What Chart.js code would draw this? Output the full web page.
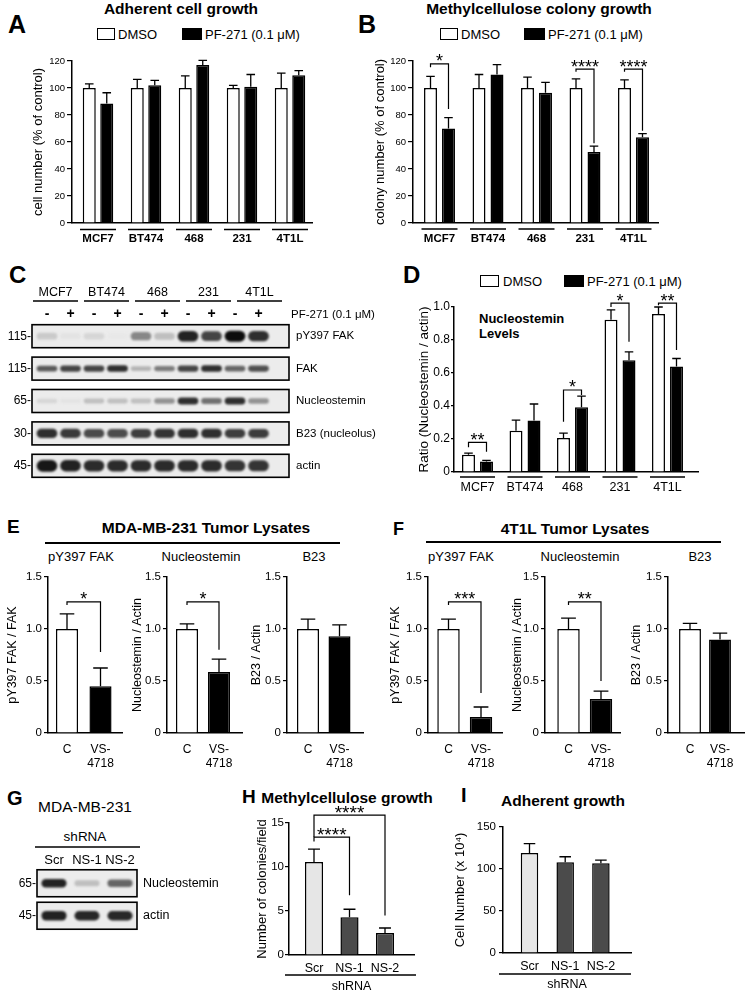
<!DOCTYPE html>
<html><head><meta charset="utf-8">
<script src="https://cdn.jsdelivr.net/npm/chart.js"></script>
<style>
html,body{margin:0;padding:0;background:#fff;}
body{width:746px;height:992px;position:relative;overflow:hidden;font-family:"Liberation Sans",Arial,sans-serif;color:#000;}
.abs{position:absolute;white-space:nowrap;line-height:1;}
canvas{position:absolute;}
</style></head><body>
<script>
// ================= DATA =================
const cellLines = ['MCF7', 'BT474', '468', '231', '4T1L'];

const adherentDMSO = [100, 100, 100, 100, 100];
const adherentDMSOErr = [3, 6.4, 9, 2, 11];
const adherentPF = [88.5, 102, 117, 101, 109.5];
const adherentPFErr = [8, 3.7, 3.5, 9, 3.4];

const colonyDMSO = [100, 100, 100, 100, 100];
const colonyDMSOErr = [8.6, 10, 8, 6.7, 6];
const colonyPF = [70, 110, 96.5, 52.6, 63.5];
const colonyPFErr = [8, 7.3, 7.7, 4.4, 2.7];
// [group, label, bracket level, left leg end, right leg end]
const colonySig = [[0, '*', 117.8, 115.3, 84.4], [3, '****', 114, 112, 59], [4, '****', 114, 112, 68.4]];

const nsRatioDMSO = [0.104, 0.25, 0.206, 0.923, 0.957];
const nsRatioDMSOErr = [0.01, 0.065, 0.03, 0.06, 0.043];
const nsRatioPF = [0.063, 0.312, 0.393, 0.678, 0.64];
const nsRatioPFErr = [0.008, 0.1, 0.067, 0.05, 0.048];
const nsRatioSig = [[0, '**', 0.18, 0.15, 0.123], [2, '*', 0.497, 0.305, 0.467], [3, '*', 1.024, 1.0, 0.79], [4, '**', 1.024, 1.01, 0.74]];

const tumorGroups = ['C', ['VS-', '4718']];
const mda231FAK = [1.0, 0.45], mda231FAKErr = [0.145, 0.175];
const mda231NS = [1.0, 0.586], mda231NSErr = [0.05, 0.125];
const mda231B23 = [1.0, 0.93], mda231B23Err = [0.095, 0.11];
const t4t1FAK = [1.0, 0.155], t4t1FAKErr = [0.095, 0.095];
const t4t1NS = [1.0, 0.327], t4t1NSErr = [0.105, 0.075];
const t4t1B23 = [1.0, 0.90], t4t1B23Err = [0.055, 0.06];
// [from, to, label, level, left leg end, right leg end]
const mda231FAKSig = [[0, 1, '*', 1.26, 1.23, 0.78]];
const mda231NSSig = [[0, 1, '*', 1.26, 1.23, 0.80]];
const t4t1FAKSig = [[0, 1, '***', 1.26, 1.23, 0.385]];
const t4t1NSSig = [[0, 1, '**', 1.26, 1.23, 0.5]];

const shRNAGroups = ['Scr', 'NS-1', 'NS-2'];
const coloniesPerField = [10.57, 4.3, 2.5];
const coloniesErr = [1.45, 0.9, 0.57];
const coloniesSig = [[0, 1, '****', 13.4, 12.9, 6.8], [0, 2, '****', 15.9, 13.4, 4.5]];
const cellNumber = [118.9, 107.9, 106.7];
const cellNumberErr = [11.4, 6.7, 3.9];

// Western blots: band intensity 0 (none) .. 1 (black)
const blotCTreatment = ['-', '+', '-', '+', '-', '+', '-', '+', '-', '+'];
const blotCRows = ['pY397 FAK', 'FAK', 'Nucleostemin', 'B23 (nucleolus)', 'actin'];
const blotCMarkers = ['115-', '115-', '65-', '30-', '45-'];
const blotCIntensity = [
  [0.15, 0.04, 0.1, 0.02, 0.45, 0.2, 0.9, 0.75, 1.0, 0.85],
  [0.65, 0.75, 0.75, 0.85, 0.25, 0.5, 0.75, 0.85, 0.6, 0.7],
  [0.1, 0.04, 0.2, 0.2, 0.2, 0.4, 0.85, 0.55, 0.85, 0.4],
  [0.85, 0.8, 0.72, 0.72, 0.78, 0.82, 0.85, 0.85, 0.78, 0.78],
  [0.95, 0.9, 0.86, 0.86, 0.86, 0.86, 0.86, 0.86, 0.82, 0.82]
];
const blotGLanes = ['Scr', 'NS-1', 'NS-2'];
const blotGRows = ['Nucleostemin', 'actin'];
const blotGMarkers = ['65-', '45-'];
const blotGIntensity = [[0.9, 0.2, 0.6], [0.9, 0.88, 0.88]];

// ================= HELPERS =================
Chart.defaults.font.family = "'Liberation Sans', Arial, sans-serif";
Chart.defaults.color = '#000';
const FONT = "'Liberation Sans', Arial, sans-serif";

function txt(s, x, y, size, opt = {}) {
  const d = document.createElement('div');
  d.className = 'abs';
  d.textContent = s;
  d.style.fontSize = size + 'px';
  if (opt.bold) d.style.fontWeight = 'bold';
  d.style.top = (y - 0.4885 * size) + 'px';
  d.style.left = x + 'px';
  if (opt.center) d.style.transform = 'translateX(-50%)';
  document.body.appendChild(d);
}
function box(x, y, w, h, fill) {
  const d = document.createElement('div');
  d.className = 'abs';
  d.style.cssText += `left:${x}px;top:${y}px;width:${w}px;height:${h}px;background:${fill};box-sizing:border-box;border:1.5px solid #000;`;
  document.body.appendChild(d);
}
function hline(x1, x2, y) {
  const d = document.createElement('div');
  d.className = 'abs';
  d.style.cssText += `left:${x1}px;top:${y - 0.75}px;width:${x2 - x1}px;height:1.5px;background:#000;`;
  document.body.appendChild(d);
}
// keep label overflow from moving the plot area
const fixV = w => s => { s.width = w; s.paddingTop = 0; s.paddingBottom = 0; };
const fixH = h => s => { s.height = h; s.paddingLeft = 0; s.paddingRight = 0; };
const NOGRID = { display: false, drawTicks: false, tickLength: 0 };

function errorBars() {
  return { id: 'errorBars', afterDatasetsDraw(chart) {
    const ctx = chart.ctx, ys = chart.scales.y;
    chart.data.datasets.forEach((ds, di) => {
      if (!ds.errors) return;
      chart.getDatasetMeta(di).data.forEach((bar, i) => {
        const top = ys.getPixelForValue(ds.data[i].y + ds.errors[i]);
        const half = bar.width * 0.33;
        ctx.save(); ctx.strokeStyle = '#000'; ctx.lineWidth = 1.3; ctx.beginPath();
        ctx.moveTo(bar.x, bar.y); ctx.lineTo(bar.x, top);
        ctx.moveTo(bar.x - half, top); ctx.lineTo(bar.x + half, top);
        ctx.stroke(); ctx.restore();
      });
    });
  }};
}
function brackets(items, size) {
  return { id: 'brackets', afterDatasetsDraw(chart) {
    const ctx = chart.ctx, ys = chart.scales.y;
    items.forEach(b => {
      const pa = chart.getDatasetMeta(b.a[0]).data[b.a[1]];
      const pb = chart.getDatasetMeta(b.b[0]).data[b.b[1]];
      const yl = ys.getPixelForValue(b.y), ya = ys.getPixelForValue(b.ya), yb = ys.getPixelForValue(b.yb);
      ctx.save(); ctx.strokeStyle = '#000'; ctx.lineWidth = 1.2; ctx.beginPath();
      ctx.moveTo(pa.x, ya); ctx.lineTo(pa.x, yl); ctx.lineTo(pb.x, yl); ctx.lineTo(pb.x, yb); ctx.stroke();
      ctx.fillStyle = '#000'; ctx.font = size + 'px ' + FONT; ctx.textAlign = 'center'; ctx.textBaseline = 'alphabetic';
      ctx.fillText(b.text, (pa.x + pb.x) / 2, yl + 3.5);
      ctx.restore();
    });
  }};
}
function groupLines(l) {
  return { id: 'groupLines', afterDraw(chart) {
    if (!l) return;
    const ctx = chart.ctx, xs = chart.scales.x, y = chart.chartArea.bottom + l.dy;
    ctx.save(); ctx.strokeStyle = '#000'; ctx.lineWidth = 1.5; ctx.beginPath();
    if (l.span) { ctx.moveTo(xs.left + l.span[0], y); ctx.lineTo(xs.right + l.span[1], y); }
    else xs.ticks.forEach(t => { const p = xs.getPixelForValue(t.value); ctx.moveTo(p - l.half, y); ctx.lineTo(p + l.half, y); });
    ctx.stroke(); ctx.restore();
  }};
}
function pairSig(sig) { return sig.map(s => ({ a: [0, s[0]], b: [1, s[0]], text: s[1], y: s[2], ya: s[3], yb: s[4] })); }
function crossSig(sig) { return sig.map(s => ({ a: [0, s[0]], b: [0, s[1]], text: s[2], y: s[3], ya: s[4], yb: s[5] })); }
const dec1 = v => (v === 0 ? '0' : Number(v).toFixed(1));

function barChart(o) {
  const yW = o.L - o.cl;
  const pr = o.pr ?? 4;
  const W = Math.round(o.R - o.L + yW + pr);
  const H = Math.round(o.B - o.T + o.pt + o.xh);
  const cv = document.createElement('canvas');
  cv.width = W; cv.height = H;
  cv.style.cssText = `left:${o.cl}px;top:${o.T - o.pt}px;width:${W}px;height:${H}px;`;
  document.body.appendChild(cv);
  const labels = o.labels;
  return new Chart(cv, {
    type: 'bar',
    data: { datasets: o.series.map(s => ({
      data: s.values.map((v, i) => ({ x: i, y: v })),
      errors: s.errors,
      backgroundColor: s.fill,
      borderColor: '#000', borderWidth: 1.5,
      categoryPercentage: o.cat, barPercentage: o.bar
    })) },
    options: {
      responsive: false, animation: false, devicePixelRatio: 1, events: [],
      layout: { padding: { top: o.pt, right: pr, left: 0, bottom: H - o.pt - (o.B - o.T) - o.xh } },
      plugins: { legend: { display: false }, tooltip: { enabled: false } },
      scales: {
        x: {
          type: 'linear', offset: false,
          min: (o.L - o.x0) / o.dx, max: (o.R - o.x0) / o.dx,
          afterBuildTicks: ax => { ax.ticks = labels.map((_, i) => ({ value: i })); },
          ticks: { autoSkip: false, maxRotation: 0, minRotation: 0, padding: o.xp, font: o.xfont, callback: v => labels[v] },
          grid: NOGRID,
          border: { display: true, color: '#000', width: 1.5 },
          title: o.xtitle ? { display: true, text: o.xtitle, font: { size: 12.5 }, padding: { top: 0, bottom: o.xtp } } : { display: false },
          afterFit: fixH(o.xh)
        },
        y: {
          min: 0, max: o.ymax,
          ticks: { stepSize: o.step, font: { size: o.tf }, padding: o.tp, callback: o.fmt || (v => v) },
          grid: { display: true, drawOnChartArea: false, drawTicks: true, tickLength: o.tl, color: '#000', tickColor: '#000', lineWidth: 1.2 },
          border: { display: true, color: '#000', width: 1.5 },
          title: { display: true, text: o.ytitle, font: { size: o.ytf }, padding: { top: 0, bottom: 0 } },
          afterFit: fixV(yW)
        }
      }
    },
    plugins: [errorBars(), brackets(o.brackets || [], o.star || 18), groupLines(o.lines)]
  });
}

function blotChart(o) {
  const n = o.rows.length;
  const T = o.T, B = o.T + n * o.dy;
  const hh = o.header ? o.header.h : 0;
  const padTop = T - o.ct - o.xhH - hh;
  const padBottom = o.ct + o.ch - B;
  const cv = document.createElement('canvas');
  cv.width = o.cw; cv.height = o.ch;
  cv.style.cssText = `left:0px;top:${o.ct}px;width:${o.cw}px;height:${o.ch}px;`;
  document.body.appendChild(cv);
  const rowTicks = ax => { ax.ticks = o.rows.map((_, i) => ({ value: i })); };
  const datasets = o.intensity.map((row, r) => ({
    data: row.map((v, lane) => {
      const h = o.bandPx[r] * (0.55 + 0.45 * v) / 2 / o.dy;
      return { x: lane, y: [r - h, r + h] };
    }),
    backgroundColor: row.map(v => { const g = Math.round(236 - 224 * v); return `rgb(${g},${g},${g})`; }),
    grouped: false, categoryPercentage: 1, barPercentage: o.barPct,
    borderWidth: 0, borderRadius: 8, borderSkipped: false
  }));
  const scales = {
    x: {
      type: 'linear', position: 'top', offset: false, weight: 0,
      min: (o.L - o.x0) / o.dx, max: (o.R - o.x0) / o.dx,
      afterBuildTicks: ax => { ax.ticks = o.lanes.map((_, i) => ({ value: i })); },
      ticks: { autoSkip: false, maxRotation: 0, minRotation: 0, padding: o.xp, font: o.xfont, callback: v => o.lanes[v] },
      grid: NOGRID, border: { display: false },
      afterFit: fixH(o.xhH)
    },
    y: {
      type: 'linear', position: 'left', reverse: true, min: -0.5, max: n - 0.5,
      afterBuildTicks: rowTicks,
      ticks: { autoSkip: false, padding: 1, font: { size: 12 }, callback: v => o.markers[v] },
      grid: NOGRID, border: { display: false },
      afterFit: fixV(o.L)
    },
    yr: {
      type: 'linear', position: 'right', reverse: true, min: -0.5, max: n - 0.5,
      afterBuildTicks: rowTicks,
      ticks: { autoSkip: false, padding: o.rp, font: { size: o.rf }, callback: v => o.rows[v] },
      grid: NOGRID, border: { display: false },
      afterFit: fixV(o.cw - o.R)
    }
  };
  if (o.header) {
    scales.xh = {
      type: 'linear', position: 'top', offset: false, weight: 1,
      min: (o.L - o.header.x0) / o.header.dx, max: (o.R - o.header.x0) / o.header.dx,
      afterBuildTicks: ax => { ax.ticks = o.header.labels.map((_, i) => ({ value: i })); },
      ticks: { autoSkip: false, maxRotation: 0, minRotation: 0, padding: o.header.p, font: { size: 12.5 }, callback: v => o.header.labels[v] },
      grid: NOGRID, border: { display: false },
      afterFit: fixH(hh)
    };
  }
  const framePlugin = {
    id: 'blotFrames',
    beforeDatasetsDraw(chart) {
      const { ctx, chartArea: a, scales: { y } } = chart;
      ctx.save(); ctx.fillStyle = o.bg;
      o.rows.forEach((_, r) => {
        const t = y.getPixelForValue(r - o.half), b = y.getPixelForValue(r + o.half);
        ctx.fillRect(a.left, t, a.right - a.left, b - t);
      });
      ctx.restore();
      ctx.save(); ctx.filter = 'blur(0.8px)';
    },
    afterDatasetsDraw(chart) {
      const { ctx, chartArea: a, scales } = chart;
      ctx.restore();
      ctx.save(); ctx.strokeStyle = '#000'; ctx.lineWidth = 1.6;
      o.rows.forEach((_, r) => {
        const t = scales.y.getPixelForValue(r - o.half), b = scales.y.getPixelForValue(r + o.half);
        ctx.strokeRect(a.left, t, a.right - a.left, b - t);
      });
      ctx.lineWidth = 1.5; ctx.beginPath();
      if (o.header) {
        const y0 = scales.x.top + 1;
        o.header.labels.forEach((_, k) => {
          const p = scales.xh.getPixelForValue(k);
          ctx.moveTo(p - o.header.half, y0); ctx.lineTo(p + o.header.half, y0);
        });
      }
      if (o.span) {
        const y0 = a.top + o.span.dy;
        ctx.moveTo(a.left + o.span.x1, y0); ctx.lineTo(a.right + o.span.x2, y0);
      }
      ctx.stroke();
      if (o.side) {
        ctx.fillStyle = '#000'; ctx.font = o.side.size + 'px ' + FONT;
        ctx.textAlign = 'left'; ctx.textBaseline = 'middle';
        ctx.fillText(o.side.text, a.right + 2, a.top + o.side.dy);
      }
      ctx.restore();
    }
  };
  return new Chart(cv, {
    type: 'bar',
    data: { datasets },
    options: {
      responsive: false, animation: false, devicePixelRatio: 1, events: [],
      layout: { padding: { top: padTop, bottom: padBottom, left: 0, right: 0 } },
      plugins: { legend: { display: false }, tooltip: { enabled: false } },
      scales
    },
    plugins: [framePlugin]
  });
}

// ================= TEXT / LEGENDS =================
txt('A', 8, 24, 25, { bold: 1 });
txt('B', 358, 24, 25, { bold: 1 });
txt('C', 9, 275, 24, { bold: 1 });
txt('D', 403, 275, 24, { bold: 1 });
txt('E', 7, 526.5, 19, { bold: 1 });
txt('F', 393, 529, 18, { bold: 1 });
txt('G', 7, 797.5, 20, { bold: 1 });
txt('H', 242, 796.5, 19, { bold: 1 });
txt('I', 461, 795, 20, { bold: 1 });

txt('Adherent cell growth', 181, 8.5, 15.5, { bold: 1, center: 1 });
txt('Methylcellulose colony growth', 539, 8.5, 15.5, { bold: 1, center: 1 });
box(97, 28, 18, 12, '#fff'); txt('DMSO', 118, 34, 13);
box(182, 28, 20, 12, '#000'); txt('PF-271 (0.1 μM)', 205, 34, 13);
box(440, 28, 18, 12, '#fff'); txt('DMSO', 461, 34, 13);
box(524, 28, 21, 12, '#000'); txt('PF-271 (0.1 μM)', 548, 34, 13);
box(480, 275, 19, 12, '#fff'); txt('DMSO', 503, 281, 13);
box(564, 275, 20, 12, '#000'); txt('PF-271 (0.1 μM)', 587, 281, 13);
txt('Nucleostemin', 479, 318, 13, { bold: 1 });
txt('Levels', 479, 333, 13, { bold: 1 });

txt('MDA-MB-231 Tumor Lysates', 206, 527.5, 15.5, { bold: 1, center: 1 });
hline(45, 340, 543);
txt('pY397 FAK', 81, 556, 13, { center: 1 });
txt('Nucleostemin', 201, 556, 13, { center: 1 });
txt('B23', 314, 556, 13, { center: 1 });
txt('4T1L Tumor Lysates', 575, 529, 15.5, { bold: 1, center: 1 });
hline(426, 721, 542);
txt('pY397 FAK', 461, 556, 13, { center: 1 });
txt('Nucleostemin', 580, 556, 13, { center: 1 });
txt('B23', 700, 556, 13, { center: 1 });

txt('MDA-MB-231', 85, 807, 15.5, { center: 1 });
txt('shRNA', 85, 837, 13.5, { center: 1 });
txt('Methylcellulose growth', 347, 797.5, 15.5, { bold: 1, center: 1 });
txt('Adherent growth', 563, 801, 15.5, { bold: 1, center: 1 });

// ================= CHARTS =================
// A
barChart({ labels: cellLines,
  series: [{ values: adherentDMSO, errors: adherentDMSOErr, fill: '#fff' }, { values: adherentPF, errors: adherentPFErr, fill: '#000' }],
  cl: 31, L: 72, T: 61, R: 312, B: 223, pt: 12, xh: 32, x0: 98, dx: 48, cat: 0.729, bar: 0.743,
  ymax: 120, step: 20, tf: 9.5, tp: 2, tl: 5, ytitle: 'cell number (% of control)', ytf: 13,
  xfont: { size: 11.5, weight: 'bold' }, xp: 9, lines: { dy: 6.5, half: 18 } });
// B
barChart({ labels: cellLines,
  series: [{ values: colonyDMSO, errors: colonyDMSOErr, fill: '#fff' }, { values: colonyPF, errors: colonyPFErr, fill: '#000' }],
  cl: 373, L: 413, T: 61, R: 658, B: 223, pt: 16, xh: 32, x0: 439.5, dx: 48.5, cat: 0.742, bar: 0.72,
  ymax: 120, step: 20, tf: 9.5, tp: 2, tl: 5, ytitle: 'colony number (% of control)', ytf: 13,
  xfont: { size: 11.5, weight: 'bold' }, xp: 9, lines: { dy: 6, half: 18 },
  brackets: pairSig(colonySig), star: 18 });
// D
barChart({ labels: cellLines,
  series: [{ values: nsRatioDMSO, errors: nsRatioDMSOErr, fill: '#fff' }, { values: nsRatioPF, errors: nsRatioPFErr, fill: '#000' }],
  cl: 416, L: 454, T: 307, R: 698, B: 472, pt: 22, xh: 27, x0: 477.5, dx: 47.5, cat: 0.758, bar: 0.72,
  ymax: 1, step: 0.2, fmt: dec1, tf: 12, tp: 1, tl: 3, ytitle: 'Ratio (Nucleostemin / actin)', ytf: 13.5,
  xfont: { size: 12.5 }, xp: 8, lines: { dy: 5, half: 17.5 },
  brackets: pairSig(nsRatioSig), star: 18 });

// E
const tumorBase = { labels: tumorGroups, T: 577, B: 733, pt: 30, xh: 45, cat: 1, ymax: 1.5, step: 0.5, fmt: dec1,
  tf: 11.5, tp: 2, tl: 4, ytf: 12.5, xfont: { size: 12 }, xp: 9.3, star: 18 };
barChart({ ...tumorBase, series: [{ values: mda231FAK, errors: mda231FAKErr, fill: ['#fff', '#000'] }],
  cl: 5, L: 48, R: 122, x0: 67, dx: 33.5, bar: 0.66, ytitle: 'pY397 FAK / FAK', brackets: crossSig(mda231FAKSig) });
barChart({ ...tumorBase, series: [{ values: mda231NS, errors: mda231NSErr, fill: ['#fff', '#000'] }],
  cl: 130, L: 167, R: 242, x0: 187, dx: 32, bar: 0.69, ytitle: 'Nucleostemin / Actin', brackets: crossSig(mda231NSSig) });
barChart({ ...tumorBase, series: [{ values: mda231B23, errors: mda231B23Err, fill: ['#fff', '#000'] }],
  cl: 249, L: 287, R: 363, x0: 308, dx: 31.5, bar: 0.7, ytitle: 'B23 / Actin' });
// F
barChart({ ...tumorBase, series: [{ values: t4t1FAK, errors: t4t1FAKErr, fill: ['#fff', '#000'] }],
  cl: 388, L: 428, R: 502, x0: 448.5, dx: 32.5, bar: 0.69, ytitle: 'pY397 FAK / FAK', brackets: crossSig(t4t1FAKSig) });
barChart({ ...tumorBase, series: [{ values: t4t1NS, errors: t4t1NSErr, fill: ['#fff', '#000'] }],
  cl: 510, L: 545, R: 620, x0: 568.5, dx: 32.5, bar: 0.69, ytitle: 'Nucleostemin / Actin', brackets: crossSig(t4t1NSSig) });
barChart({ ...tumorBase, series: [{ values: t4t1B23, errors: t4t1B23Err, fill: ['#fff', '#000'] }],
  cl: 629, L: 668, R: 744, pr: 2, x0: 690, dx: 30, bar: 0.73, ytitle: 'B23 / Actin' });

// H
barChart({ labels: shRNAGroups,
  series: [{ values: coloniesPerField, errors: coloniesErr, fill: ['#e6e6e6', '#4b4b4b', '#4b4b4b'] }],
  cl: 255, L: 289, T: 823, R: 414, B: 955, pt: 26, xh: 41, x0: 314, dx: 35.5, cat: 1, bar: 0.51,
  ymax: 15, step: 5, tf: 11.5, tp: 1, tl: 4, ytitle: 'Number of colonies/field', ytf: 13,
  xfont: { size: 12.5 }, xp: 6.5, xtitle: 'shRNA', xtp: 1.5, lines: { dy: 20, span: [-4, 2] },
  brackets: crossSig(coloniesSig), star: 19 });
// I
barChart({ labels: shRNAGroups,
  series: [{ values: cellNumber, errors: cellNumberErr, fill: ['#e6e6e6', '#4b4b4b', '#4b4b4b'] }],
  cl: 453, L: 503, T: 827, R: 631, B: 953, pt: 12, xh: 43, x0: 529.5, dx: 35.7, cat: 1, bar: 0.49,
  ymax: 150, step: 50, tf: 11.5, tp: 3, tl: 4, ytitle: 'Cell Number (x 10⁴)', ytf: 13,
  xfont: { size: 12.5 }, xp: 6.5, xtitle: 'shRNA', xtp: 3.5, lines: { dy: 21, span: [-4, 0] } });

// C blot
blotChart({ ct: 280, ch: 205, cw: 380, L: 32, R: 289, T: 320, dy: 32.4,
  x0: 47, dx: 23.5, lanes: blotCTreatment, xhH: 20, xp: -3, xfont: { size: 14, weight: 'bold' },
  rows: blotCRows, markers: blotCMarkers, intensity: blotCIntensity, bandPx: [11, 7, 7.5, 10, 12],
  barPct: 0.88, half: 0.355, bg: '#ececec', rp: 7, rf: 11.5,
  header: { labels: cellLines, x0: 55.5, dx: 51, h: 18, p: -0.5, half: 22.5 },
  side: { text: 'PF-271 (0.1 μM)', size: 11.5, dy: -5 } });
// G blot
blotChart({ ct: 838, ch: 100, cw: 240, L: 37, R: 137, T: 867, dy: 32.5,
  x0: 54, dx: 33, lanes: blotGLanes, xhH: 29, xp: -1, xfont: { size: 13 },
  rows: blotGRows, markers: blotGMarkers, intensity: blotGIntensity, bandPx: [9, 10],
  barPct: 0.76, half: 0.415, bg: '#ececec', rp: 6, rf: 12.5,
  span: { dy: -20, x1: -2, x2: 3 } });
</script>
</body></html>
